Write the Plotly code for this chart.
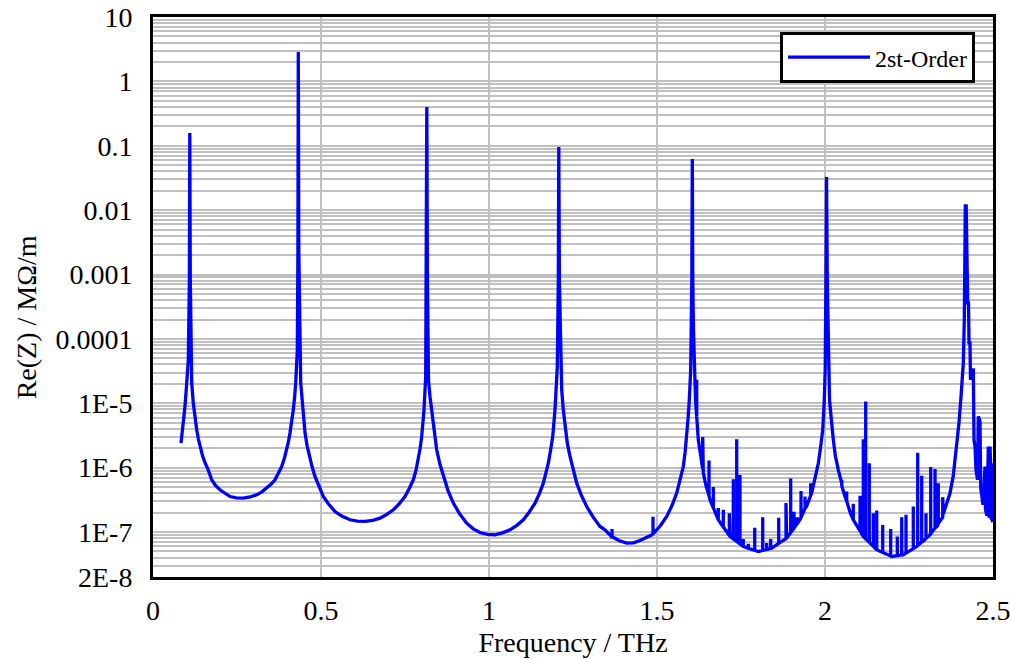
import math
import plotly.graph_objects as go

# Smooth envelope of Re(Z) (MOhm/m) vs frequency (THz)
base_freq = [
    0.0833, 0.0865, 0.0902, 0.0945, 0.0982, 0.1020, 0.1051, 0.1083, 0.1095, 0.1110,
    0.1152, 0.1199, 0.1250, 0.1301, 0.1350, 0.1399, 0.1470, 0.1548, 0.1640, 0.1747,
    0.1860, 0.1994, 0.2140, 0.2292, 0.2480, 0.2688, 0.2890, 0.3086, 0.3240, 0.3384,
    0.3510, 0.3631, 0.3735, 0.3830, 0.3910, 0.3979, 0.4030, 0.4077, 0.4130, 0.4176,
    0.4215, 0.4247, 0.4295, 0.4313, 0.4324, 0.4339, 0.4396, 0.4455, 0.4524, 0.4585,
    0.4652, 0.4735, 0.4821, 0.4940, 0.5068, 0.5230, 0.5417, 0.5630, 0.5863, 0.6080,
    0.6310, 0.6540, 0.6756, 0.6960, 0.7152, 0.7330, 0.7500, 0.7630, 0.7747, 0.7830,
    0.7896, 0.7950, 0.7997, 0.8035, 0.8065, 0.8116, 0.8134, 0.8149, 0.8167, 0.8199,
    0.8245, 0.8295, 0.8365, 0.8443, 0.8535, 0.8640, 0.8780, 0.8938, 0.9130, 0.9336,
    0.9530, 0.9732, 0.9950, 1.0179, 1.0400, 1.0625, 1.0830, 1.1021, 1.1200, 1.1369,
    1.1500, 1.1616, 1.1695, 1.1765, 1.1835, 1.1896, 1.1964, 1.2000, 1.2033, 1.2063,
    1.2077, 1.2095, 1.2164, 1.2210, 1.2262, 1.2330, 1.2411, 1.2500, 1.2610, 1.2750,
    1.2908, 1.3100, 1.3304, 1.3452, 1.3652, 1.3690, 1.3880, 1.4098, 1.4300, 1.4494,
    1.4680, 1.4851, 1.4911, 1.5100, 1.5289, 1.5450, 1.5586, 1.5700, 1.5783, 1.5840,
    1.5884, 1.5925, 1.5961, 1.6003, 1.6036, 1.6051, 1.6065, 1.6086, 1.6146, 1.6229,
    1.6290, 1.6378, 1.6460, 1.6577, 1.6900, 1.7173, 1.7700, 1.8015, 1.8414, 1.8600,
    1.8860, 1.9256, 1.9450, 1.9604, 1.9700, 1.9801, 1.9870, 1.9932, 1.9975, 2.0006,
    2.0027, 2.0045, 2.0068, 2.0104, 2.0134, 2.0247, 2.0310, 2.0396, 2.0500, 2.0595,
    2.0750, 2.1985, 2.2330, 2.2729, 2.2950, 2.3125, 2.3350, 2.3521, 2.3571, 2.3720,
    2.3818, 2.3920, 2.3988, 2.4048, 2.4116, 2.4146, 2.4161, 2.4176, 2.4202, 2.4217,
    2.4235, 2.4247, 2.4271, 2.4286, 2.4315, 2.4330, 2.4390, 2.4414, 2.4435, 2.4464,
    2.4494, 2.4539, 2.4562, 2.4583, 2.4613, 2.4634, 2.4702, 2.4762, 2.4777, 2.4821,
    2.4860, 2.4881, 2.4911, 2.4932, 2.4946, 2.4961, 2.4979, 2.5000,
]
base_val = [
    2.4e-6, 3.3e-6, 4.9e-6, 8.2e-6, 1.45e-5, 2.6e-5, 4.7e-5, 8.2e-4, 0.158, 8.2e-4,
    2.07e-5, 1.01e-5, 5.9e-6, 3.86e-6, 2.8e-6, 2.10e-6, 1.55e-6, 1.19e-6, 9.3e-7, 6.47e-7,
    5.3e-7, 4.52e-7, 3.95e-7, 3.56e-7, 3.4e-7, 3.36e-7, 3.5e-7, 3.78e-7, 4.2e-7, 4.85e-7,
    5.5e-7, 6.47e-7, 8.1e-7, 1.04e-6, 1.4e-6, 1.89e-6, 2.5e-6, 3.47e-6, 5.2e-6, 7.91e-6,
    1.25e-5, 2.07e-5, 6.75e-5, 2.41e-3, 2.86, 2.4e-3, 2.07e-5, 7.9e-6, 3.47e-6, 2.2e-6,
    1.49e-6, 1.03e-6, 7.28e-7, 5.0e-7, 3.56e-7, 2.7e-7, 2.08e-7, 1.75e-7, 1.55e-7, 1.48e-7,
    1.46e-7, 1.52e-7, 1.64e-7, 1.88e-7, 2.21e-7, 2.75e-7, 3.56e-7, 4.8e-7, 6.47e-7, 9.2e-7,
    1.32e-6, 2.0e-6, 3.04e-6, 5.0e-6, 7.9e-6, 2.60e-5, 8.2e-4, 0.40, 8.2e-4, 2.31e-5,
    1.25e-5, 7.9e-6, 3.7e-6, 1.89e-6, 1.15e-6, 7.28e-7, 4.4e-7, 2.81e-7, 1.9e-7, 1.37e-7,
    1.12e-7, 9.8e-8, 9.2e-8, 9.05e-8, 9.7e-8, 1.08e-7, 1.27e-7, 1.55e-7, 2.05e-7, 2.81e-7,
    3.95e-7, 5.74e-7, 8.2e-7, 1.17e-6, 1.9e-6, 3.04e-6, 7.9e-6, 1.6e-5, 3.72e-5, 8.2e-4,
    0.096, 8.2e-4, 1.61e-5, 8.0e-6, 4.35e-6, 2.4e-6, 1.49e-6, 9.3e-7, 5.74e-7, 3.7e-7,
    2.49e-7, 1.7e-7, 1.22e-7, 1.08e-7, 8.34e-8, 8.3e-8, 7.3e-8, 6.73e-8, 6.8e-8, 7.38e-8,
    8.1e-8, 9.05e-8, 9.72e-8, 1.25e-7, 1.74e-7, 2.6e-7, 4.02e-7, 6.8e-7, 1.04e-6, 1.8e-6,
    3.04e-6, 5.8e-6, 1.13e-5, 3.30e-5, 8.2e-4, 0.0624, 8.2e-4, 1.38e-4, 1.13e-5, 2.70e-6,
    1.5e-6, 8.22e-7, 5.2e-7, 3.16e-7, 1.35e-7, 8.51e-8, 5.6e-8, 4.98e-8, 5.6e-8, 6.6e-8,
    8.04e-8, 1.55e-7, 2.5e-7, 4.02e-7, 6.8e-7, 1.17e-6, 2.1e-6, 3.86e-6, 1.0e-5, 3.30e-5,
    8.2e-4, 0.0328, 8.2e-4, 3.30e-5, 1.13e-5, 2.70e-6, 1.5e-6, 9.25e-7, 5.2e-7, 3.56e-7,
    2.0e-7, 4.17e-8, 4.42e-8, 5.96e-8, 7.4e-8, 9.05e-8, 1.25e-7, 1.9e-7, 2.3e-7, 4.0e-7,
    7.5e-7, 2.2e-6, 5.0e-6, 1.27e-5, 4.20e-5, 1.97e-4, 1.69e-3, 0.0116, 0.0116, 2.27e-3,
    2.27e-3, 3.62e-4, 3.62e-4, 8.67e-5, 8.67e-5, 2.31e-5, 3.30e-5, 3.30e-5, 2.70e-6, 2.13e-6,
    9.25e-7, 6.47e-7, 6.21e-6, 5.93e-6, 5.20e-6, 4.85e-7, 2.64e-7, 1.04e-6, 2.21e-7, 1.79e-7,
    2.13e-6, 1.66e-7, 2.13e-6, 1.04e-6, 1.55e-7, 1.17e-6, 1.49e-7, 1.44e-7,
]

# Narrow noise spikes: frequency, value at the envelope, value at the spike top
spike_freq = [
    1.3661, 1.4881,
    1.6182, 1.6360, 1.6548, 1.6676, 1.6824, 1.6973, 1.7152, 1.7271, 1.7372, 1.7470,
    1.7568, 1.7717, 1.7908, 1.8146, 1.8265, 1.8384, 1.8622, 1.8839, 1.8979, 1.9077,
    1.9176, 1.9286, 1.9405, 1.9574,
    2.0497, 2.0646, 2.0842, 2.1042, 2.1140, 2.1211, 2.1318, 2.1438, 2.1539, 2.1717,
    2.1955, 2.2152, 2.2283, 2.2411, 2.2628, 2.2759, 2.2878, 2.3006, 2.3146, 2.3274,
    2.3372, 2.3503,
]
spike_base = [
    8.3e-8, 9.4e-8,
    6.15e-6, 9.48e-7, 3.65e-7, 2.38e-7, 1.55e-7, 1.20e-7, 8.83e-8, 7.78e-8, 7.11e-8, 6.51e-8,
    5.96e-8, 5.60e-8, 5.20e-8, 5.2e-8, 5.37e-8, 5.56e-8, 6.68e-8, 7.91e-8, 9.79e-8, 1.15e-7,
    1.36e-7, 1.68e-7, 2.32e-7, 3.70e-7,
    5.70e-7, 3.00e-7, 1.55e-7, 1.04e-7, 8.51e-8, 7.81e-8, 6.90e-8, 5.97e-8, 5.30e-8, 4.81e-8,
    4.24e-8, 4.29e-8, 4.40e-8, 4.70e-8, 5.52e-8, 6.15e-8, 6.97e-8, 7.98e-8, 9.38e-8, 1.16e-7,
    1.36e-7, 1.69e-7,
]
spike_top = [
    1.11e-7, 1.72e-7,
    2.31e-5, 2.98e-6, 1.29e-6, 4.98e-7, 2.35e-7, 2.21e-7, 1.96e-7, 6.62e-7, 2.77e-6, 7.65e-7,
    7.76e-8, 6.56e-8, 1.16e-7, 1.70e-7, 6.73e-8, 7.76e-8, 1.66e-7, 2.81e-7, 6.78e-7, 2.06e-7,
    1.70e-7, 4.32e-7, 3.56e-7, 5.74e-7,
    6.47e-7, 4.26e-7, 2.74e-7, 3.65e-7, 2.77e-6, 1.06e-5, 1.17e-6, 1.96e-7, 2.16e-7, 1.29e-7,
    1.11e-7, 8.51e-8, 1.70e-7, 1.85e-7, 2.49e-7, 1.71e-6, 7.46e-7, 1.96e-7, 1.02e-6, 9.48e-7,
    5.74e-7, 3.48e-7,
]

series_name = "2st-Order"
x_title = "Frequency / THz"
y_title = "Re(Z) / MΩ/m"
x_ticks = [0, 0.5, 1, 1.5, 2, 2.5]
x_ticktext = ["0", "0.5", "1", "1.5", "2", "2.5"]
y_ticks = [10, 1, 0.1, 0.01, 0.001, 0.0001, 1e-5, 1e-6, 1e-7, 2e-8]
y_ticktext = ["10", "1", "0.1", "0.01", "0.001", "0.0001", "1E-5", "1E-6", "1E-7", "2E-8"]

# merge envelope points and spikes into one ordered trace
pts = [(f, 0, v, v) for f, v in zip(base_freq, base_val)]
pts += [(f, 1, b, t) for f, b, t in zip(spike_freq, spike_base, spike_top)]
pts.sort(key=lambda p: (p[0], p[1]))
xs, ys = [], []
for f, kind, b, t in pts:
    if kind == 0:
        xs.append(f); ys.append(b)
    else:
        xs += [f, f, f]; ys += [b, t, b]

minor_vals = []
for e in range(-8, 1):
    for m in range(2, 10):
        v = m * 10 ** e
        if 2e-8 < v < 10:
            minor_vals.append(v)

SERIF = "Liberation Serif"
GRID = "#c0c0c0"
FS = 28

fig = go.Figure()
fig.add_trace(go.Scatter(
    x=xs, y=ys, mode="lines", name=series_name,
    line=dict(color="#0000ff", width=3.3),
))

fig.update_layout(
    template="none",
    width=1011, height=659,
    margin=dict(l=153, r=18, t=17, b=82, autoexpand=False),
    paper_bgcolor="white", plot_bgcolor="white",
    font=dict(family=SERIF, size=FS, color="black"),
    showlegend=True,
    legend=dict(
        x=0.9786, y=0.973, xanchor="right", yanchor="top",
        bgcolor="white", bordercolor="black", borderwidth=3,
        font=dict(family=SERIF, size=24, color="black"),
        itemwidth=82, entrywidth=196,
    ),
    annotations=[dict(
        text=y_title, textangle=-90, showarrow=False,
        xref="paper", yref="paper", x=-0.151, y=0.464,
        xanchor="center", yanchor="middle",
        font=dict(family=SERIF, size=FS, color="black"),
    )],
)
fig.update_xaxes(
    range=[0, 2.5], tickvals=x_ticks, ticktext=x_ticktext,
    showgrid=True, gridcolor=GRID, gridwidth=2,
    showline=True, linecolor="black", linewidth=3, mirror=True,
    ticks="", zeroline=False, automargin=False,
    title=dict(text=x_title, standoff=8, font=dict(family=SERIF, size=FS, color="black")),
    tickfont=dict(family=SERIF, size=FS, color="black"),
    ticklabelstandoff=6,
)
fig.update_yaxes(
    type="log", range=[math.log10(2e-8), 1],
    tickvals=y_ticks, ticktext=y_ticktext,
    showgrid=True, gridcolor=GRID, gridwidth=2,
    minor=dict(tickvals=minor_vals, showgrid=True, gridcolor=GRID, gridwidth=2, ticks=""),
    showline=True, linecolor="black", linewidth=3, mirror=True,
    ticks="", zeroline=False, automargin=False,
    tickfont=dict(family=SERIF, size=FS, color="black"),
    ticklabelstandoff=12,
)

fig.write_html(
    "out.html",
    config={"displayModeBar": False},
    post_script="document.body.style.margin='0';document.body.style.padding='0';",
)
